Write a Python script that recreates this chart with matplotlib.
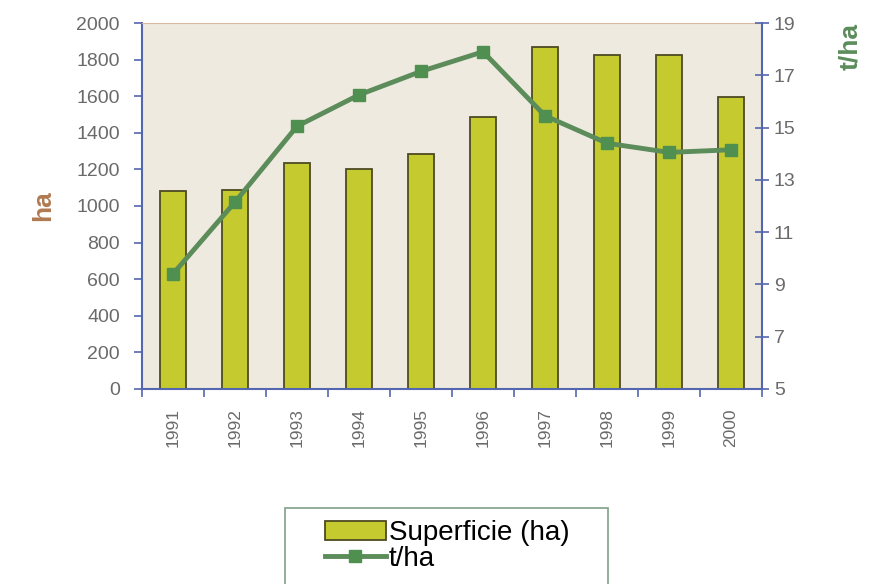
import matplotlib
matplotlib.use("Agg")
import matplotlib.pyplot as plt
from matplotlib.patches import Rectangle
import numpy as np

plt.rcParams["font.family"] = ["Liberation Sans", "DejaVu Sans"]

years = ["1991", "1992", "1993", "1994", "1995", "1996", "1997", "1998", "1999", "2000"]
superficie = [1080, 1090, 1235, 1200, 1284, 1486, 1869, 1825, 1825, 1595]
rendement = [9.4, 12.15, 15.05, 16.25, 17.15, 17.9, 15.45, 14.4, 14.05, 14.15]

BAR = "#c5cb2e"
LINE = "#5b8c5a"
SPINE = "#5566b0"
TICK = "#6a6a6a"

fig = plt.figure(figsize=(8.78, 5.84), dpi=100)
ax = fig.add_axes([0.1617, 0.334, 0.7063, 0.6266])
ax.set_facecolor("#eeeadf")

x = np.arange(len(years))
bars = ax.bar(x, superficie, 0.42, color=BAR, edgecolor="#4d4a22", linewidth=1.3,
              label="Superficie (ha)", zorder=2)
ax.set_xlim(-0.5, len(years) - 0.5)
ax.set_ylim(0, 2000)
ax.set_yticks(range(0, 2001, 200))
ax.set_xticks(x)
ax.set_xticklabels(years, rotation=90, color=TICK, fontsize=12.5)
ax.set_xticks(np.arange(-0.5, len(years)), minor=True)
ax.tick_params(axis="x", which="major", length=0, pad=14)
ax.tick_params(axis="x", which="minor", length=6, color=SPINE, width=1.2)
ax.tick_params(axis="y", colors=TICK, labelsize=14, length=6, width=1.2, pad=10)
ax.tick_params(axis="y", color=SPINE)
for s in ["left", "bottom"]:
    ax.spines[s].set_color(SPINE)
    ax.spines[s].set_linewidth(1.5)
ax.spines["top"].set_color("#d9b9a0")
ax.spines["right"].set_visible(False)
ax.set_ylabel("ha", color="#b07a52", fontsize=19, fontweight="bold")
ax.yaxis.set_label_coords(-0.14, 0.5)

ax2 = ax.twinx()
line, = ax2.plot(x, rendement, color=LINE, lw=3.5, marker="s", markersize=9,
                 markerfacecolor="#4f8f4f", markeredgecolor="#4f8f4f", label="t/ha", zorder=3)
ax2.set_ylim(5, 19)
ax2.set_yticks(range(5, 20, 2))
ax2.tick_params(axis="y", colors=TICK, labelsize=14, length=10, width=1.2, direction="inout")
ax2.tick_params(axis="y", color=SPINE)
ax2.spines["right"].set_color(SPINE)
ax2.spines["right"].set_linewidth(1.5)
for s in ["left", "bottom", "top"]:
    ax2.spines[s].set_visible(False)
ax2.set_ylabel("t/ha", color=LINE, fontsize=19, fontweight="bold", rotation=90)
ax2.yaxis.set_label_coords(1.1226, 0.935)

# legend frame drawn separately (wider side padding than top)
W, H = 878, 584
fig.patches.append(Rectangle((285 / W, -0.01), (608 - 285) / W, 1 - 508 / H + 0.01,
                             transform=fig.transFigure, facecolor="white",
                             edgecolor="#8aa890", linewidth=1.3, zorder=1))
leg = fig.legend([bars, line], ["Superficie (ha)", "t/ha"], loc="center",
                 bbox_to_anchor=(447 / W, 1 - 546 / H), fontsize=20, frameon=False,
                 handlelength=2.2, handletextpad=0.1, borderpad=0.2, labelspacing=0.0)

fig.savefig("out.png", dpi=100)
